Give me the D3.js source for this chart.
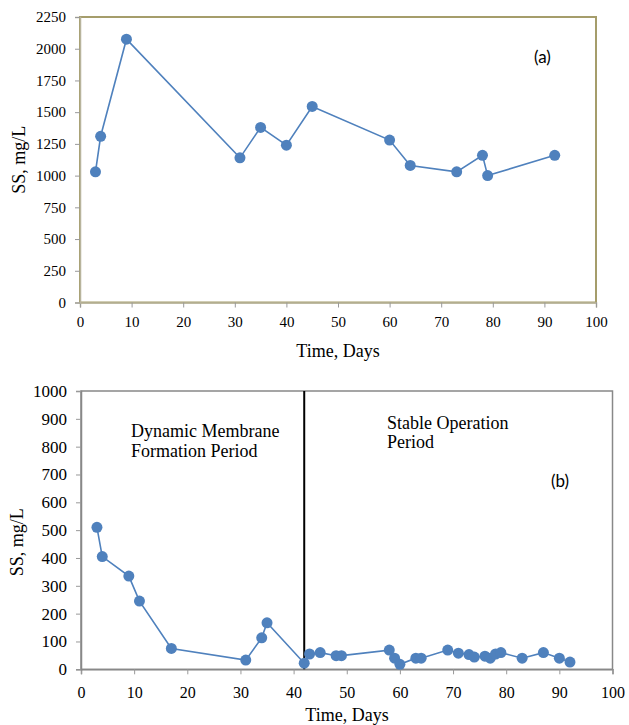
<!DOCTYPE html>
<html>
<head>
<meta charset="UTF-8">
<title>SS vs Time</title>
<script src="https://d3js.org/d3.v7.min.js"></script>
<style>
  body { margin: 0; background: #fff; }
  text { font-family: "Liberation Serif", "Times New Roman", serif; fill: #000; }
</style>
</head>
<body>
<svg id="chart" width="629" height="725"></svg>
<script>
// panel (a) data
var daysA = [3, 4, 9, 31, 35, 40, 45, 60, 64, 73, 78, 79, 92];
var ssA = [1030, 1310, 2075, 1140, 1380, 1240, 1545, 1280, 1080, 1030, 1160, 1000, 1160];
var yTicksA = [0, 250, 500, 750, 1000, 1250, 1500, 1750, 2000, 2250];

// panel (b) data
var daysB = [3, 4, 9, 11, 17, 31, 34, 35, 42, 43, 45, 48, 49, 58, 59, 60, 63, 64, 69, 71, 73, 74, 76, 77, 78, 79, 83, 87, 90, 92];
var ssB = [510, 405, 335, 245, 75, 33, 113, 167, 22, 55, 60, 49, 49, 69, 40, 18, 40, 40, 69, 58, 53, 44, 47, 40, 55, 60, 40, 60, 40, 26];
var yTicksB = [0, 100, 200, 300, 400, 500, 600, 700, 800, 900, 1000];

var xTicks = [0, 10, 20, 30, 40, 50, 60, 70, 80, 90, 100];
var splitDay = 42;

var blue = "#4f81bd";
var svg = d3.select("#chart");

function drawPanel(opt) {
  var x = d3.scaleLinear().domain([0, 100]).range([opt.left, opt.right]);
  var y = d3.scaleLinear().domain([0, opt.ymax]).range([opt.bottom, opt.top]);
  var g = svg.append("g");

  // frame
  g.append("rect")
    .attr("x", opt.left).attr("y", opt.top)
    .attr("width", opt.right - opt.left).attr("height", opt.bottom - opt.top)
    .attr("fill", "none").attr("stroke", opt.frame).attr("stroke-width", opt.frameW);

  // axes
  var fmt = d3.format("d");
  var xAxis = g.append("g")
    .attr("transform", "translate(0," + opt.bottom + ")")
    .call(d3.axisBottom(x).tickValues(xTicks).tickFormat(fmt).tickSize(5).tickPadding(opt.xPad));
  var yAxis = g.append("g")
    .attr("transform", "translate(" + opt.left + ",0)")
    .call(d3.axisLeft(y).tickValues(opt.yTicks).tickFormat(fmt).tickSize(5).tickPadding(9));

  [xAxis, yAxis].forEach(function(a) {
    a.select(".domain").attr("stroke", opt.axisCol).attr("stroke-width", 1.5);
    a.selectAll(".tick line").attr("stroke", "#999");
  });
  xAxis.selectAll("text").attr("font-size", opt.xFont).attr("font-family", "Liberation Serif");
  yAxis.selectAll("text").attr("font-size", opt.yFont).attr("font-family", "Liberation Serif");

  if (opt.split) {
    g.append("line")
      .attr("x1", x(opt.split)).attr("x2", x(opt.split))
      .attr("y1", opt.top).attr("y2", opt.bottom)
      .attr("stroke", "#000").attr("stroke-width", 2);
  }

  var pts = opt.days.map(function(d, i) { return [d, opt.vals[i]]; });
  g.append("path")
    .datum(pts)
    .attr("fill", "none").attr("stroke", blue).attr("stroke-width", 1.6)
    .attr("d", d3.line().x(function(d) { return x(d[0]); }).y(function(d) { return y(d[1]); }));
  g.selectAll("circle.pt")
    .data(pts).enter().append("circle")
    .attr("class", "pt")
    .attr("cx", function(d) { return x(d[0]); })
    .attr("cy", function(d) { return y(d[1]); })
    .attr("r", 5.5)
    .attr("fill", blue);

  // labels
  g.append("text")
    .attr("transform", "translate(" + opt.yLabelX + "," + ((opt.top + opt.bottom) / 2 + opt.yLabelDy) + ") rotate(-90)")
    .attr("text-anchor", "middle").attr("font-size", 18)
    .text("SS, mg/L");
  g.append("text")
    .attr("x", opt.xLabelX).attr("y", opt.xLabelY)
    .attr("text-anchor", "middle").attr("font-size", 18)
    .text("Time, Days");
  g.append("text")
    .attr("x", opt.tagX).attr("y", opt.tagY)
    .style("font-family", "Lato, 'Open Sans', sans-serif")
    .attr("font-size", 17)
    .text(opt.tag);
  return g;
}

drawPanel({
  left: 80, right: 596, top: 17, bottom: 302.5, ymax: 2250,
  days: daysA, vals: ssA, yTicks: yTicksA,
  frame: "#a59d6b", frameW: 2, axisCol: "#b8b49c",
  xFont: 15, yFont: 15, xPad: 9,
  yLabelX: 25, yLabelDy: 0, xLabelX: 338, xLabelY: 357,
  tag: "(a)", tagX: 534, tagY: 63
});

var gb = drawPanel({
  left: 81, right: 612.5, top: 391, bottom: 669.3, ymax: 1000,
  days: daysB, vals: ssB, yTicks: yTicksB, split: splitDay,
  frame: "#888", frameW: 1.5, axisCol: "#888",
  xFont: 16, yFont: 17, xPad: 12,
  yLabelX: 23, yLabelDy: 12, xLabelX: 347, xLabelY: 721,
  tag: "(b)", tagX: 551, tagY: 487
});

gb.append("text").attr("font-size", 18)
  .selectAll("tspan").data(["Dynamic Membrane", "Formation Period"]).enter()
  .append("tspan").attr("x", 131).attr("y", function(d, i) { return 437 + i * 20; })
  .text(function(d) { return d; });
gb.append("text").attr("font-size", 18)
  .selectAll("tspan").data(["Stable Operation", "Period"]).enter()
  .append("tspan").attr("x", 387).attr("y", function(d, i) { return 429 + i * 19; })
  .text(function(d) { return d; });
</script>
</body>
</html>
